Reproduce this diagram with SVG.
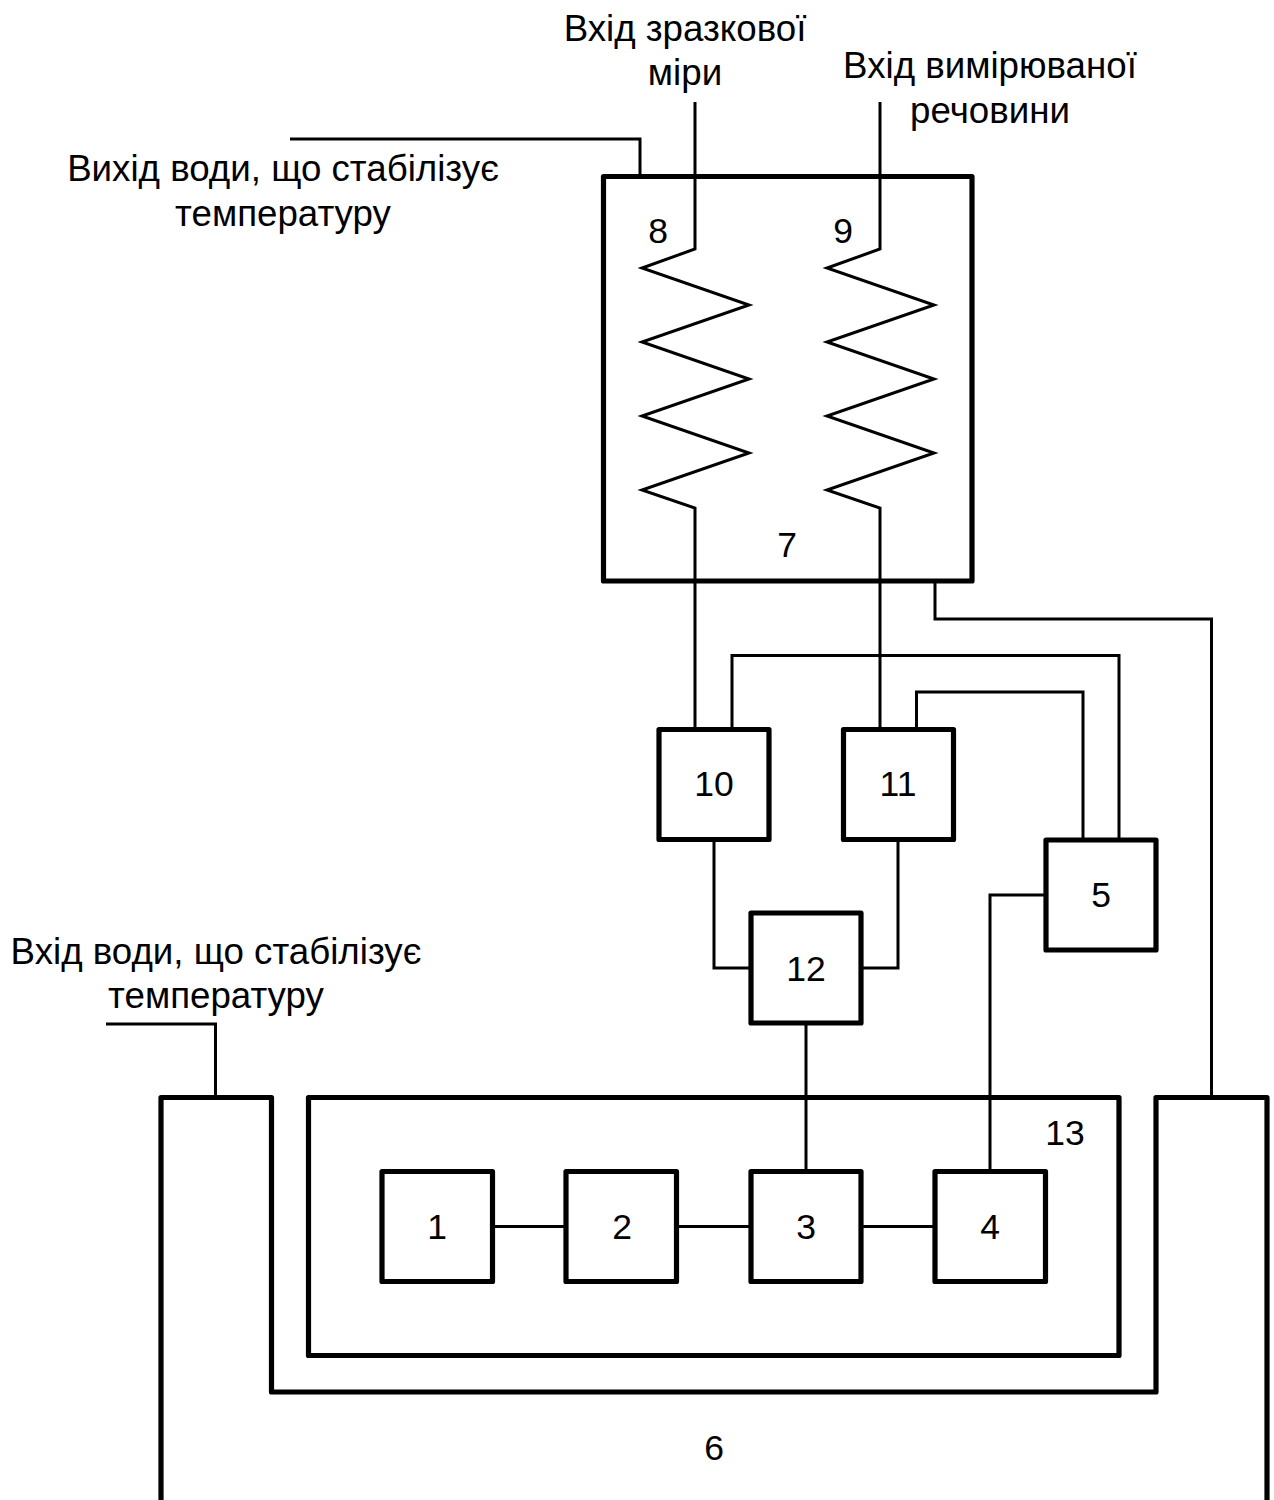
<svg xmlns="http://www.w3.org/2000/svg" width="1274" height="1500" viewBox="0 0 1274 1500">
<style>
text{font-family:"Liberation Sans",Arial,sans-serif;font-size:36.7px;fill:#000;text-anchor:middle}
text.n{font-size:35.5px}
.b{fill:none;stroke:#000;stroke-width:5.2;stroke-linejoin:round}
.c{fill:none;stroke:#000;stroke-width:3}
</style>
<rect width="1274" height="1500" fill="#fff"/>
<g id="connectors">
<path class="c" d="M290 139H640V177"/>
<path class="c" d="M695 102V249L642 268L749 305L642 342L749 379L642 416L749 453L642 490L695 508V729"/>
<path class="c" d="M880 102V249L827 268L934 305L827 342L934 379L827 416L934 453L827 490L880 508V729"/>
<path class="c" d="M935 581V619H1211.500V1098"/>
<path class="c" d="M732 729V655.500H1119V840"/>
<path class="c" d="M916.500 729V692H1083V840"/>
<path class="c" d="M714 840V968H751"/>
<path class="c" d="M898 840V968H862"/>
<path class="c" d="M806 1024V1171"/>
<path class="c" d="M1046 895H990V1171"/>
<path class="c" d="M106 1024H215.500V1098"/>
<path class="c" d="M493 1226.500H566M677 1226.500H751M862 1226.500H935"/>
</g>
<g id="node-7"><rect class="b" x="603.500" y="176.500" width="368.500" height="404.500"/><text class="n" x="787" y="556.500">7</text></g>
<g id="node-8"><text class="n" x="658" y="243">8</text></g>
<g id="node-9"><text class="n" x="843" y="243">9</text></g>
<g id="node-10"><rect class="b" x="659" y="729.500" width="110" height="110"/><text class="n" x="714" y="795.500">10</text></g>
<g id="node-11"><rect class="b" x="843.500" y="729.500" width="110" height="110"/><text class="n" x="898" y="795.500">11</text></g>
<g id="node-5"><rect class="b" x="1046" y="840" width="110" height="110"/><text class="n" x="1101" y="906.500">5</text></g>
<g id="node-12"><rect class="b" x="751" y="913" width="110" height="110"/><text class="n" x="806" y="980.500">12</text></g>
<g id="node-6"><path class="b" d="M161 1500V1097.500H271.500V1392H1156V1097.500H1267V1500"/><text class="n" x="714" y="1459.500">6</text></g>
<g id="node-13"><rect class="b" x="308.500" y="1097.500" width="810.500" height="258"/><text class="n" x="1065" y="1145">13</text></g>
<g id="node-1"><rect class="b" x="382" y="1171.500" width="110.500" height="110"/><text class="n" x="437" y="1238.500">1</text></g>
<g id="node-2"><rect class="b" x="566" y="1171.500" width="110.500" height="110"/><text class="n" x="622" y="1238.500">2</text></g>
<g id="node-3"><rect class="b" x="751" y="1171.500" width="110" height="110"/><text class="n" x="806" y="1238.500">3</text></g>
<g id="node-4"><rect class="b" x="935" y="1171.500" width="110.500" height="110"/><text class="n" x="990" y="1238.500">4</text></g>
<g id="labels">
<text x="685" y="40.500">Вхід зразкової</text>
<text x="685" y="84.500">міри</text>
<text x="990" y="77.500">Вхід вимірюваної</text>
<text x="990" y="122.500">речовини</text>
<text x="283" y="180.500">Вихід води, що стабілізує</text>
<text x="283" y="225.500">температуру</text>
<text x="216" y="963.500">Вхід води, що стабілізує</text>
<text x="216" y="1007.500">температуру</text>
</g>
</svg>
